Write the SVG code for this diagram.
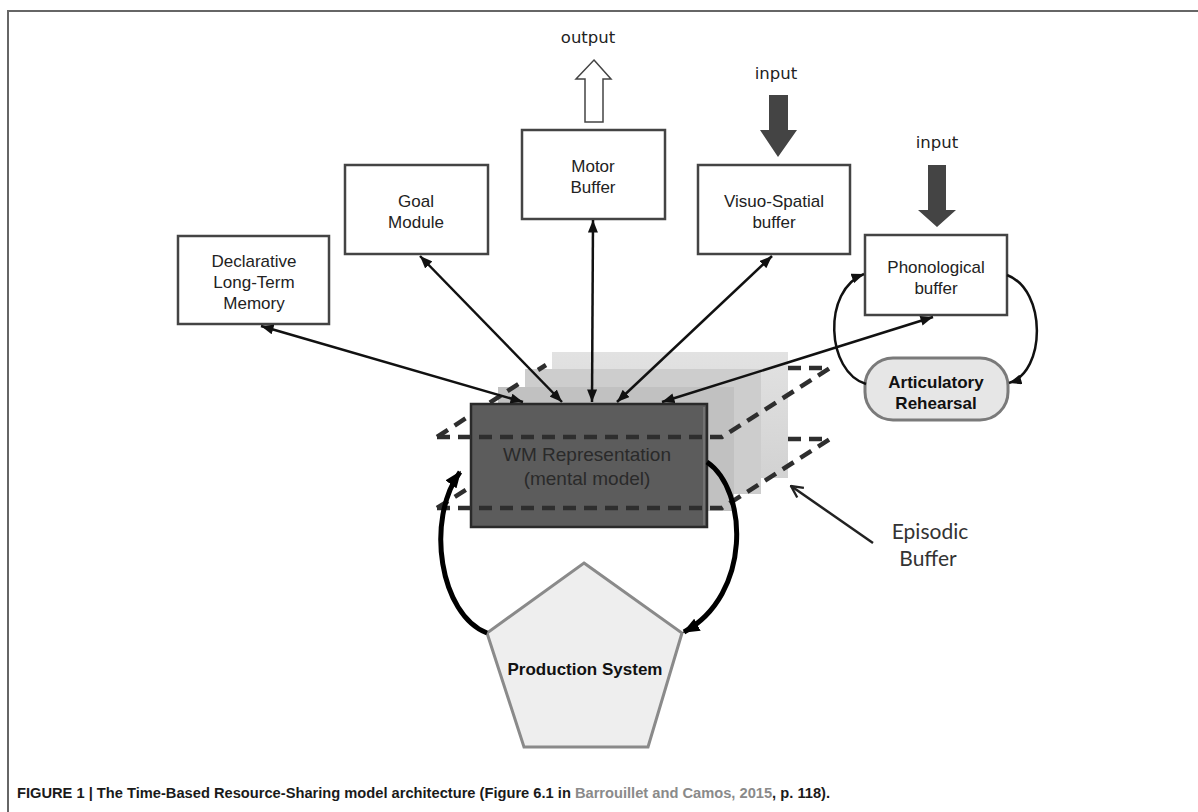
<svg xmlns="http://www.w3.org/2000/svg" width="1198" height="812" viewBox="0 0 1198 812">
<style>
.box{fill:#fff;stroke:#444;stroke-width:2.5}
.lbl{font-family:"Liberation Sans",Arial,sans-serif;font-size:17px;fill:#222;text-anchor:middle}
.bold{font-weight:bold;fill:#111}
.io{font-family:"DejaVu Sans",sans-serif;font-size:16.5px;fill:#222;text-anchor:middle}
.con{fill:none;stroke:#111;stroke-width:2.5}
.thick{fill:none;stroke:#000;stroke-width:5}
.dash{fill:none;stroke:#2e2e2e;stroke-width:4.5;stroke-dasharray:13 8}
</style>
<defs>
<marker id="ah" viewBox="0 0 10 8" refX="10" refY="4" markerWidth="13" markerHeight="10" markerUnits="userSpaceOnUse" orient="auto-start-reverse">
<path d="M0,0 L10,4 L0,8 z" fill="#111"/>
</marker>
<marker id="ahb" viewBox="0 0 10 8" refX="9" refY="4" markerWidth="17" markerHeight="14" markerUnits="userSpaceOnUse" orient="auto">
<path d="M0,0 L10,4 L0,8 z" fill="#000"/>
</marker>
<marker id="open" viewBox="0 0 12 12" refX="11" refY="6" markerWidth="14" markerHeight="14" markerUnits="userSpaceOnUse" orient="auto">
<path d="M1,1 L11,6 L1,11" fill="none" stroke="#222" stroke-width="2"/>
</marker>
<linearGradient id="g3" x1="0" y1="0" x2="0" y2="1">
<stop offset="0" stop-color="#e2e2e2"/><stop offset="1" stop-color="#d2d2d2"/>
</linearGradient>
</defs>
<rect width="1198" height="812" fill="#fff"/>
<path d="M8,812 L8,11 L1198,11" fill="none" stroke="#666" stroke-width="2"/>

<g id="episodic-buffer">
<rect x="552" y="352" width="236" height="126" fill="url(#g3)"/>
<rect x="525" y="369" width="236" height="125" fill="#cdcdcd"/>
<rect x="498" y="387" width="236" height="124" fill="#c1c1c1"/>
<path class="dash" d="M437,437 L520,383"/>
<path class="dash" d="M538,370 L546,365"/>
<path class="dash" d="M788,368 L830,368"/>
<path class="dash" d="M788,439 L830,439"/>
<path class="dash" d="M437,508 L472,486"/>
</g>

<g id="wm">
<rect x="471" y="404" width="236" height="123" fill="#5c5c5c" stroke="#2a2a2a" stroke-width="2.5"/>
<line x1="704" y1="407" x2="704" y2="525" stroke="#888" stroke-width="1"/>
<text x="587" y="461" font-family="Liberation Sans,Arial,sans-serif" font-size="19" fill="#2a2a2a" text-anchor="middle">WM Representation</text>
<text x="587" y="485" font-family="Liberation Sans,Arial,sans-serif" font-size="19" fill="#2a2a2a" text-anchor="middle">(mental model)</text>
</g>

<g id="planes-front">
<path class="dash" d="M437,437 L722,437 L830,368"/>
<path class="dash" d="M437,508 L722,508 L830,439"/>
</g>

<g id="production-system">
<polygon points="584,563 682,633 648,747 524,747 487,633" fill="#eeeeee" stroke="#8a8a8a" stroke-width="3"/>
<text class="lbl bold" x="585" y="675">Production System</text>
</g>

<g id="declarative-ltm">
<rect class="box" x="178" y="236" width="151" height="88"/>
<text class="lbl" x="254" y="267">Declarative</text>
<text class="lbl" x="254" y="288">Long-Term</text>
<text class="lbl" x="254" y="309">Memory</text>
</g>
<g id="goal-module">
<rect class="box" x="345" y="165" width="143" height="89"/>
<text class="lbl" x="416" y="207">Goal</text>
<text class="lbl" x="416" y="228">Module</text>
</g>
<g id="motor-buffer">
<rect class="box" x="522" y="130" width="143" height="89"/>
<text class="lbl" x="593" y="172">Motor</text>
<text class="lbl" x="593" y="193">Buffer</text>
</g>
<g id="visuo-spatial-buffer">
<rect class="box" x="698" y="165" width="152" height="89"/>
<text class="lbl" x="774" y="207">Visuo-Spatial</text>
<text class="lbl" x="774" y="228">buffer</text>
</g>
<g id="phonological-buffer">
<rect class="box" x="865" y="235" width="142" height="80"/>
<text class="lbl" x="936" y="273">Phonological</text>
<text class="lbl" x="936" y="294">buffer</text>
</g>
<g id="articulatory-rehearsal">
<rect x="865" y="358" width="143" height="62" rx="28" fill="#e6e6e6" stroke="#7a7a7a" stroke-width="3"/>
<text class="lbl bold" x="936" y="388">Articulatory</text>
<text class="lbl bold" x="936" y="409">Rehearsal</text>
</g>

<g id="io">
<text class="io" x="588" y="43">output</text>
<polygon points="594,60 611,79 603,79 603,122 585,122 585,79 576,79" fill="#fff" stroke="#444" stroke-width="1.5"/>
<text class="io" x="776" y="79">input</text>
<polygon points="769,95 788,95 788,130 797,130 778,157 760,130 769,130" fill="#444"/>
<text class="io" x="937" y="148">input</text>
<polygon points="928,165 946,165 946,210 956,210 937,227 918,210 928,210" fill="#444"/>
</g>

<g id="episodic-label">
<text x="930" y="539" font-family="Lato,'Open Sans',sans-serif" font-size="21" fill="#333" text-anchor="middle">Episodic</text>
<text x="928" y="566" font-family="Lato,'Open Sans',sans-serif" font-size="21" fill="#333" text-anchor="middle">Buffer</text>
</g>

<g id="connectors">
<path class="con" d="M523,402 L261,326" marker-start="url(#ah)" marker-end="url(#ah)"/>
<path class="con" d="M562,402 L420,256" marker-start="url(#ah)" marker-end="url(#ah)"/>
<path class="con" d="M592,402 L593,220" marker-start="url(#ah)" marker-end="url(#ah)"/>
<path class="con" d="M617,402 L772,256" marker-start="url(#ah)" marker-end="url(#ah)"/>
<path class="con" d="M662,402 L933,317" marker-start="url(#ah)" marker-end="url(#ah)"/>
<path class="con" d="M866,384 C826,372 822,290 864,274" marker-end="url(#ah)"/>
<path class="con" d="M1007,275 C1047,290 1046,372 1009,383" marker-end="url(#ah)"/>
<path class="thick" d="M487,633 C440,615 425,520 460,472" marker-end="url(#ahb)"/>
<path class="thick" d="M707,462 C748,490 752,595 684,632" marker-end="url(#ahb)"/>
<path d="M873,543 L791,486" fill="none" stroke="#222" stroke-width="2.5" marker-end="url(#open)"/>
</g>

<g id="caption">
<text x="17" y="798" font-family="'Liberation Sans',Arial,sans-serif" font-size="14" font-weight="bold" fill="#1a1a1a" textLength="813" lengthAdjust="spacingAndGlyphs">FIGURE 1 | The Time-Based Resource-Sharing model architecture (Figure 6.1 in <tspan fill="#8a8a8a">Barrouillet and Camos, 2015</tspan>, p. 118).</text>
</g>
</svg>
